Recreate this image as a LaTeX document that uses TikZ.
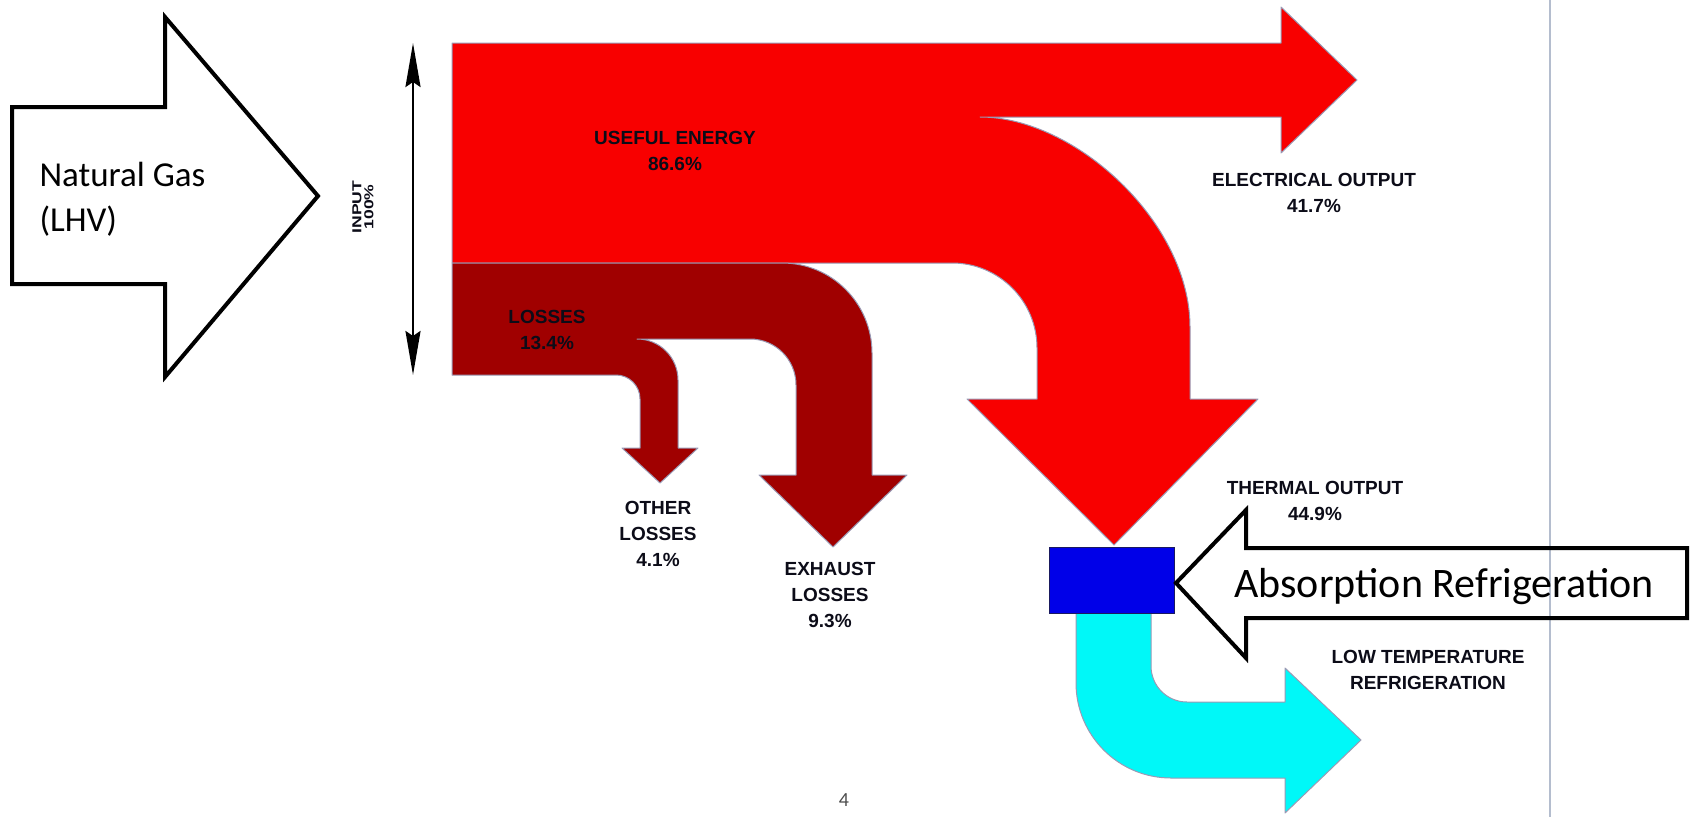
\documentclass[tikz,border=0pt]{standalone}
\usepackage{fontspec}
\setmainfont{Carlito}
\newfontfamily\lblfont{Liberation Sans}
\usepackage{tikz}
\usetikzlibrary{arrows.meta}
\usepackage{xcolor}

\definecolor{usefulred}{HTML}{F80000}
\definecolor{lossred}{HTML}{A00000}
\definecolor{boxblue}{HTML}{0000E8}
\definecolor{boxedge}{HTML}{1A1A60}
\definecolor{coldcyan}{HTML}{00F8F8}
\definecolor{edgegray}{HTML}{9A9AB4}
\definecolor{sepgray}{HTML}{B4BDCE}
\definecolor{labelink}{HTML}{0C0C18}

\begin{document}
\begin{tikzpicture}[x=1pt, y=-1pt, >={Stealth[length=44pt, width=15pt, inset=5pt]},
  flow/.style={draw=edgegray, line width=1pt, line join=round},
  outline/.style={draw=black, line width=4pt, line join=miter},
  lbl/.style={font=\lblfont\bfseries\fontsize{19}{26}\selectfont, align=center, text=labelink}]
  \useasboundingbox (0,0) rectangle (1691,817);
  \draw[sepgray, line width=1.5pt] (1550,0) -- (1550,817);

  \draw[outline] (12,107) -- (165,107) -- (165,17) -- (318,196) -- (165,377) -- (165,284) -- (12,284) -- cycle;
  \node[anchor=west, align=left, font=\fontsize{35}{45}\selectfont] (gas) at (36,199) {Natural Gas\\(LHV)};

  \draw[<->, line width=2.5pt] (413,43) -- (413,375);
  \node[lbl, font=\lblfont\bfseries\fontsize{13}{12}\selectfont, rotate=90, xscale=1.35] (input) at (363,207) {INPUT\\100\%};

  \fill[usefulred, flow] (452,43) -- (1281,43) -- (1281,7) -- (1357,80) -- (1281,153) -- (1281,117) -- (980,117)
    .. controls (1075,117) and (1190,222) .. (1190,327) -- (1190,399) -- (1258,399) -- (1114,545) -- (967,399)
    -- (1037,399) -- (1037,348) arc[start angle=0, end angle=-90, radius=85] -- (452,263) -- cycle;
  \fill[lossred, flow] (452,263) -- (782,263) arc[start angle=-90, end angle=0, radius=90] -- (872,475)
    -- (907,475) -- (833,547) -- (759,475) -- (796,475) -- (796,385) arc[start angle=0, end angle=-90, radius=46]
    -- (637,339) arc[start angle=-90, end angle=0, radius=41] -- (678,448) -- (698,448) -- (660,483)
    -- (622,448) -- (640,448) -- (640,399) arc[start angle=0, end angle=-90, radius=24] -- (452,375) -- cycle;
  \fill[coldcyan, flow] (1076,613) -- (1151,613) -- (1151,666) arc[start angle=180, end angle=90, radius=36]
    -- (1285,702) -- (1285,668) -- (1361,740) -- (1285,813) -- (1285,778) -- (1171,778)
    arc[start angle=90, end angle=180, radius=95] -- cycle;
  \node[draw=boxedge, fill=boxblue, line width=1pt, minimum width=125pt, minimum height=66pt, inner sep=0pt] (chiller) at (1111.5,580) {};

  \draw[outline] (1176,583) -- (1246,510) -- (1246,548) -- (1687,548) -- (1687,618) -- (1246,618) -- (1246,658) -- cycle;
  \node[font=\fontsize{42}{50}\selectfont] (absorb) at (1444,587) {Absorption Refrigeration};

  \node[lbl] (useful) at (675,151) {USEFUL ENERGY\\86.6\%};
  \node[lbl] (losses) at (547,330) {LOSSES\\13.4\%};
  \node[lbl] (other) at (658,534) {OTHER\\LOSSES\\4.1\%};
  \node[lbl] (exhaust) at (830,595) {EXHAUST\\LOSSES\\9.3\%};
  \node[lbl] (electric) at (1314,193) {ELECTRICAL OUTPUT\\41.7\%};
  \node[lbl] (thermal) at (1315,501) {THERMAL OUTPUT\\44.9\%};
  \node[lbl] (cold) at (1428,670) {LOW TEMPERATURE\\REFRIGERATION};

  \node[text=black!70, font=\fontsize{20}{24}\selectfont] (page) at (844,800) {4};
\end{tikzpicture}
\end{document}
